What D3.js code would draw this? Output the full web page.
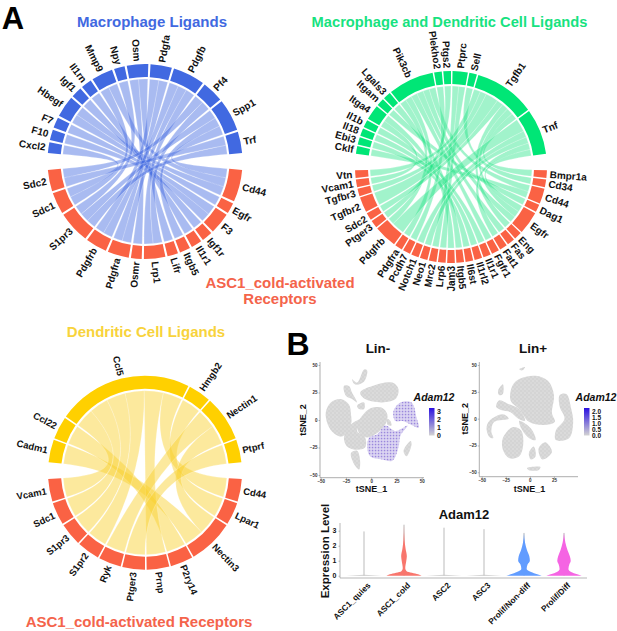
<!DOCTYPE html>
<html><head><meta charset="utf-8">
<style>
html,body{margin:0;padding:0;background:#fff}
text{font-family:"Liberation Sans",Arial,sans-serif;font-weight:bold}
</style>
<script src="https://d3js.org/d3.v7.min.js"></script>
</head><body><svg id="c" width="617" height="631" viewBox="0 0 617 631"></svg>
<script>
// ---------- Panel A data ----------
const macroLigands=["Cxcl2","F10","F7","Hbegf","Igf1","Il1rn","Mmp9","Npy","Osm","Pdgfa","Pdgfb","Pf4","Spp1","Trf"];
const macroReceptors=["Cd44","Egfr","F3","Igf1r","Il1r1","Itgb5","Lifr","Lrp1","Osmr","Pdgfra","Pdgfrb","S1pr3","Sdc1","Sdc2"];
const macroLinks=[["Cxcl2","Sdc1",1],["F10","F3",1],["F7","F3",1],["Hbegf","Egfr",1],["Hbegf","Cd44",1],["Igf1","Igf1r",1],["Il1rn","Il1r1",1],
["Mmp9","Cd44",1],["Mmp9","Sdc1",1],["Npy","S1pr3",1],["Osm","Osmr",1],["Osm","Lifr",1],["Pdgfa","Pdgfra",1],["Pdgfa","Pdgfrb",1],
["Pdgfb","Pdgfra",1],["Pdgfb","Pdgfrb",1],["Pdgfb","Lrp1",1],["Pf4","Lrp1",1],["Pf4","Sdc2",1],["Spp1","Cd44",1],["Spp1","Itgb5",1],["Spp1","S1pr3",1],
["Trf","S1pr3",1],["Trf","Sdc2",1]];

const bothLigands=["Cklf","Ebi3","Il18","Il1b","Itga4","Itgam","Lgals3","Pik3cb","Plekho2","Ptgs2","Ptprc","Sell","Tgfb1","Tnf"];
const bothReceptors=["Bmpr1a","Cd34","Cd44","Dag1","Egfr","Eng","Fas","Fat1","Fgfr1","Il1r1","Il1rl2","Il6st","Itgb5","Jam3","Lrp6","Mrc2","Neo1","Notch1","Pcdh7","Pdgfra","Pdgfrb","Ptger3","Sdc2","Tgfbr2","Tgfbr3","Vcam1","Vtn"];
const bothLinks=[["Cklf","Cd44",1],["Ebi3","Il6st",1],["Il18","Il1rl2",1],["Il1b","Il1r1",1],["Itga4","Vcam1",1],["Itga4","Jam3",1],["Itgam","Dag1",1],["Lgals3","Itgb5",1],
["Pik3cb","Egfr",1],["Pik3cb","Fgfr1",1],["Pik3cb","Pdgfra",1],["Pik3cb","Pdgfrb",1],["Pik3cb","Fas",1],["Pik3cb","Cd44",1],
["Plekho2","Pcdh7",1],["Ptgs2","Ptger3",1],["Ptprc","Mrc2",1],["Ptprc","Lrp6",1],["Sell","Cd34",1],
["Tgfb1","Tgfbr2",2],["Tgfb1","Tgfbr3",1],["Tgfb1","Eng",1],["Tgfb1","Bmpr1a",1],["Tgfb1","Egfr",1],["Tgfb1","Sdc2",1],["Tgfb1","Vtn",1],
["Tnf","Egfr",1],["Tnf","Fat1",1],["Tnf","Neo1",1],["Tnf","Notch1",1],["Tnf","Pdgfrb",2]];

const dcLigands=["Cadm1","Ccl22","Ccl5","Hmgb2","Nectin1","Ptprf"];
const dcReceptors=["Cd44","Lpar1","Nectin3","P2ry14","Prnp","Ptger3","Ryk","S1pr2","S1pr3","Sdc1","Vcam1"];
const dcLinks=[["Cadm1","Nectin3",1],["Ccl22","P2ry14",1],["Ccl5","Vcam1",1],["Ccl5","Sdc1",1],["Ccl5","S1pr3",1],["Ccl5","S1pr2",1],["Ccl5","Prnp",1],["Ccl5","Cd44",1],
["Hmgb2","Lpar1",1],["Nectin1","Ryk",1],["Nectin1","Nectin3",1],["Ptprf","Ptger3",1]];

// ---------- Panel B data (cluster outlines, in tSNE units) ----------
const linNegGray=[
[[-45,7],[-40,16],[-30,19],[-22,14],[-20,5],[-20,-4],[-29,-15],[-37,-12],[-43,-4]],
[[-27,-16],[-20,-4],[-9,1],[-14,-10],[-6,-16],[-6,-25],[-15,-27],[-24,-24]],
[[-11,25],[1,31],[21,34],[27,28],[24,19],[11,16],[-6,19]],
[[-27,31],[-22,31],[-19,25],[-14,16],[-19,19],[-25,22]],
[[-19,37],[-14,34],[-7,46],[-4,45],[-7,35],[-14,32],[-17,33]],
[[-14,-5],[-2,10],[11,11],[16,5],[14,-4],[4,-13],[-4,-16],[-11,-13]],
[[-20,-30],[-14,-28],[-11,-37],[-12,-45],[-17,-40]],
[[32,-28],[39,-19],[40,-22],[35,-33]],
[[-14,13],[-7,16],[-7,10],[-12,10]],
[[16,1],[19,-1],[20,-5],[16,-4]]];
const linNegPurple=[
[[-2,-16],[6,-13],[14,-5],[24,-10],[36,-5],[29,-14],[27,-25],[21,-37],[11,-36],[-1,-33],[-4,-25]],
[[22,8],[29,16],[40,16],[45,2],[47,-7],[39,-4],[31,-1],[24,-1]]];
const linPosGray=[
[[-18,31],[-11,37],[6,40],[19,35],[25,22],[23,5],[26,-3],[14,-6],[-1,-3],[-11,9],[-20,17]],
[[-35,11],[-32,17],[-23,14],[-11,9],[-5,-2],[-12,0],[-20,6],[-30,8]],
[[-33,26],[-28,32],[-28,23],[-32,22]],
[[31,22],[38,23],[43,9],[45,-3],[41,-18],[27,-20],[27,-11],[36,0],[31,11]],
[[-28,-18],[-18,-8],[-9,-11],[-7,-25],[-11,-35],[-21,-37],[-28,-29]],
[[-45,-9],[-42,-2],[-28,4],[-22,0],[-37,-3],[-40,-12],[-38,-18],[-42,-17]],
[[-11,-2],[1,-9],[6,-20],[-1,-18],[-9,-9]],
[[-1,-32],[4,-26],[6,-35],[1,-38]],
[[9,-28],[16,-22],[23,-31],[13,-38]],
[[-3,-46],[11,-45],[9,-48],[-1,-48]],
[[-11,46],[-5,48],[-8,45]]];
const tsneTicks=[-50,-25,0,25,50];
const linPosXTicks=[-50,-25,0,25];
const legendNegLabels=[3,2,1,0];
const legendPosLabels=["2.0","1.5","1.0","0.5","0.0"];

const clusters=["ASC1_quies","ASC1_cold","ASC2","ASC3","Prolif/Non-diff","Prolif/Diff"];
const clusterTop=[2.95,3.4,3.2,3.1,2.85,2.85];
const violinLevels=[0,0.1,0.25,0.45,0.75,1,1.3,1.7,2.2,2.85];
const violinColdLevels=[0,0.1,0.2,0.3,0.5,1,1.3,1.8,2.4,3.4];
const violinCold=[1,0.8,0.45,0.15,0.07,0.13,0.16,0.09,0.03,0];
const violinNonDiff=[1,0.75,0.4,0.15,0.2,0.33,0.3,0.17,0.06,0];
const violinDiff=[1,0.75,0.4,0.25,0.3,0.38,0.33,0.2,0.08,0];
const violinFlat=[1,0];
const violinFlatLevels=[0,0.07];
const exprTicks=[0,1,2,3];

// ---------- Helpers ----------
const svg=d3.select("#c");
const rad=d=>d*Math.PI/180;

function ribbonPath(s,t,r,k){
  const a0=rad(s[0])-Math.PI/2,a1=rad(s[1])-Math.PI/2,b0=rad(t[0])-Math.PI/2,b1=rad(t[1])-Math.PI/2;
  const pt=a=>[r*Math.cos(a),r*Math.sin(a)];
  const [x0,y0]=pt(a0),[x1,y1]=pt(a1),[u0,v0]=pt(b0),[u1,v1]=pt(b1);
  const p=d3.path();
  p.moveTo(x0,y0);p.arc(0,0,r,a0,a1);
  p.bezierCurveTo(k*x1,k*y1,k*u0,k*v0,u0,v0);
  p.arc(0,0,r,b0,b1);
  p.bezierCurveTo(k*u1,k*v1,k*x0,k*y0,x0,y0);
  p.closePath();
  return p.toString();
}

function chordPanel(cfg){
  const {cx,cy,R,ligands,receptors,links,gap,color,ribbonColor,ribbonOpacity,bend}=cfg;
  const g=svg.append("g").attr("transform",`translate(${cx},${cy})`);
  const bigGap=10;
  const weight=(n,k)=>d3.sum(links.filter(l=>l[k]===n),l=>l[2]);
  const total=d3.sum(links,l=>l[2]);
  const unit=(360-2*bigGap-gap*(ligands.length+receptors.length-2))/(2*total);
  const layout=(names,k,center)=>{
    const span=total*unit+gap*(names.length-1);
    let a=center-span/2;const m=new Map();
    names.forEach(n=>{const w=weight(n,k);m.set(n,{name:n,start:a,end:a+w*unit});a+=w*unit+gap;});
    return m;
  };
  const L=layout(ligands,0,0), Rc=layout(receptors,1,180);
  const rOuter=R,rInner=R-13,rRib=R-15;
  const arc=d3.arc().innerRadius(rInner).outerRadius(rOuter);
  const place=(sector,getOther,k)=>{
    const ls=links.filter(l=>l[k]===sector.name).sort((a,b)=>getOther(b)-getOther(a));
    let a=sector.start;const m=new Map();
    ls.forEach(l=>{m.set(l,[a,a+l[2]*unit]);a+=l[2]*unit;});
    return m;
  };
  const srcPos=new Map(),tgtPos=new Map();
  L.forEach(s=>place(s,l=>Rc.get(l[1]).start,0).forEach((v,l)=>srcPos.set(l,v)));
  Rc.forEach(s=>place(s,l=>L.get(l[0]).start,1).forEach((v,l)=>tgtPos.set(l,v)));
  g.selectAll("path.rib").data(links).join("path").attr("class","rib")
    .attr("d",l=>ribbonPath(srcPos.get(l),tgtPos.get(l),rRib,bend))
    .attr("fill",ribbonColor).attr("fill-opacity",ribbonOpacity).attr("stroke","#fff").attr("stroke-width",0.35).attr("stroke-opacity",0.6);
  const drawSectors=(m,col)=>{
    const arr=[...m.values()];
    g.selectAll(null).data(arr).join("path")
      .attr("d",s=>arc({startAngle:rad(s.start),endAngle:rad(s.end)})).attr("fill",col);
    g.selectAll(null).data(arr).join("text")
      .attr("transform",s=>{const mid=(s.start+s.end)/2,norm=(mid+360)%360;
        return norm<180?`rotate(${mid-90}) translate(${R+3},0)`:`rotate(${mid-90}) translate(${R+3},0) rotate(180)`;})
      .attr("text-anchor",s=>(((s.start+s.end)/2+360)%360)<180?"start":"end")
      .attr("dy","0.35em").attr("font-size",cfg.labelSize).attr("fill","#111")
      .text(s=>s.name);
  };
  drawSectors(L,color);drawSectors(Rc,"#FA6244");
}

function label(x,y,t,size,fill,extra={}){
  const e=svg.append("text").attr("x",x).attr("y",y).attr("text-anchor",extra.anchor||"middle")
    .attr("font-size",size).attr("fill",fill).text(t);
  if(extra.rotate!==undefined)e.attr("transform",`rotate(${extra.rotate} ${x} ${y})`);
  if(extra.italic)e.attr("font-style","italic");
  return e;
}

// ---------- Panel A ----------
label(13,28.5,"A",31,"#000");
label(152,27,"Macrophage Ligands",15,"#4169E1");
label(449.5,27,"Macrophage and Dendritic Cell Ligands",14.7,"#17E27F");
label(280,288,"ASC1_cold-activated",15,"#F4644B");
label(280,304,"Receptors",15,"#F4644B");
label(146,337,"Dendritic Cell Ligands",15,"#F8D33C");
label(139,627,"ASC1_cold-activated Receptors",15,"#F4644B");

chordPanel({cx:145,cy:161.5,R:97.5,ligands:macroLigands,receptors:macroReceptors,links:macroLinks,gap:1.3,color:"#4169E1",ribbonColor:"#4169E1",ribbonOpacity:0.45,bend:0.12,labelSize:10});
chordPanel({cx:451,cy:167,R:96,ligands:bothLigands,receptors:bothReceptors,links:bothLinks,gap:0.92,color:"#00E676",ribbonColor:"#1FE283",ribbonOpacity:0.42,bend:0.28,labelSize:10});
chordPanel({cx:145,cy:472.7,R:97,ligands:dcLigands,receptors:dcReceptors,links:dcLinks,gap:1,color:"#FFD000",ribbonColor:"#F9D12E",ribbonOpacity:0.47,bend:0.33,labelSize:9.5});

// ---------- Panel B ----------
label(298,355,"B",32,"#000");
const defs=svg.append("defs");
const blur=defs.append("filter").attr("id","soft");blur.append("feGaussianBlur").attr("stdDeviation",0.3);
const graySpeck=defs.append("pattern").attr("id","gspeck").attr("width",4).attr("height",4).attr("patternUnits","userSpaceOnUse");
graySpeck.append("rect").attr("width",4).attr("height",4).attr("fill","#D4D4D4");
graySpeck.append("rect").attr("x",0.5).attr("y",0.5).attr("width",1).attr("height",1).attr("fill","#F0F0F0");
graySpeck.append("rect").attr("x",2.5).attr("y",2.5).attr("width",1).attr("height",1).attr("fill","#E8E8E8");
const pat=defs.append("pattern").attr("id","speck").attr("width",3).attr("height",3).attr("patternUnits","userSpaceOnUse");
pat.append("rect").attr("width",3).attr("height",3).attr("fill","#CFC6EE");
pat.append("rect").attr("width",1.1).attr("height",1.1).attr("fill","#9B88DC");
pat.append("rect").attr("x",1.5).attr("y",1.5).attr("width",1.1).attr("height",1.1).attr("fill","#F4F1FB");
const grad=defs.append("linearGradient").attr("id","exprGrad").attr("x1",0).attr("x2",0).attr("y1",1).attr("y2",0);
grad.append("stop").attr("offset",0).attr("stop-color","#D3D3D3");
grad.append("stop").attr("offset",1).attr("stop-color","#2A10E0");

function tsne(cfg){
  const x=d3.scaleLinear().domain([-50,50]).range(cfg.xr);
  const y=d3.scaleLinear().domain([-50,50]).range(cfg.yr);
  const line=d3.line().x(d=>x(d[0])).y(d=>y(d[1])).curve(d3.curveCatmullRomClosed.alpha(0.5));
  const g=svg.append("g").attr("filter","url(#soft)");
  g.selectAll(null).data(cfg.gray).join("path").attr("d",line).attr("fill","url(#gspeck)");
  g.selectAll(null).data(cfg.purple||[]).join("path").attr("d",line).attr("fill","url(#speck)");
  const ax=svg.append("g").attr("transform",`translate(0,${cfg.axisY})`).call(d3.axisBottom(x).tickValues(cfg.xticks).tickSize(1.5).tickPadding(1));
  const ay=svg.append("g").attr("transform",`translate(${cfg.axisX},0)`).call(d3.axisLeft(y).tickValues(tsneTicks).tickSize(1.5).tickPadding(1));
  [ax,ay].forEach(a=>{a.selectAll("text").attr("font-size",4.5).attr("fill","#333");a.selectAll("line").attr("stroke","#555").attr("stroke-width",0.4);a.select(".domain").remove();});
  svg.append("line").attr("x1",cfg.axisX).attr("x2",cfg.axisEnd).attr("y1",cfg.axisY).attr("y2",cfg.axisY).attr("stroke","#777").attr("stroke-width",0.6);
  svg.append("line").attr("x1",cfg.axisX).attr("x2",cfg.axisX).attr("y1",362).attr("y2",cfg.axisY).attr("stroke","#777").attr("stroke-width",0.6);
  label(cfg.titleX,353,cfg.title,13.5,"#111");
  label(cfg.xLabX,491.5,"tSNE_1",9,"#111");
  label(cfg.yLabX,y(0),"tSNE_2",9,"#111",{rotate:-90});
  label(cfg.legX,401,"Adam12",10.5,"#111",{italic:true});
  svg.append("rect").attr("x",cfg.barX).attr("y",408).attr("width",5.5).attr("height",27.5).attr("fill","url(#exprGrad)");
  const ly=d3.scalePoint().domain(cfg.legend).range([411.5,435.7]);
  svg.selectAll(null).data(cfg.legend).join("text").attr("x",cfg.barX+8).attr("y",d=>ly(d)+2.5).attr("font-size",cfg.legSize).attr("fill","#111").text(d=>d);
}
tsne({xr:[320.7,421.7],yr:[475,365],axisX:320,axisY:477.7,axisEnd:424,xticks:tsneTicks,gray:linNegGray,purple:linNegPurple,title:"Lin-",titleX:378,xLabX:371.5,yLabX:306,legX:434,barX:429,legend:legendNegLabels,legSize:7});
tsne({xr:[481.7,578],yr:[472.3,365],axisX:479.3,axisY:476.7,axisEnd:578,xticks:linPosXTicks,gray:linPosGray,title:"Lin+",titleX:533,xLabX:529.5,yLabX:468,legX:596,barX:584,legend:legendPosLabels,legSize:6.5});

// violin plot
const vx=d3.scaleBand().domain(clusters).range([344,584]);
const vy=d3.scaleLinear().domain([0,3]).range([575.7,530.7]);
const halfW=vx.bandwidth()/2-2.3;
const vShapes=[[violinFlatLevels,violinFlat,"#C8C8C8"],[violinColdLevels,violinCold,"#F8766D"],[violinFlatLevels,violinFlat,"#C8C8C8"],[violinFlatLevels,violinFlat,"#C8C8C8"],[violinLevels,violinNonDiff,"#619CFF"],[violinLevels,violinDiff,"#F564E3"]];
clusters.forEach((c,i)=>{
  const cxv=vx(c)+vx.bandwidth()/2,[lv,wd,col]=vShapes[i];
  svg.append("line").attr("x1",cxv).attr("x2",cxv).attr("y1",vy(0)).attr("y2",vy(clusterTop[i])).attr("stroke","#AAA").attr("stroke-width",0.8);
  const area=d3.area().y(d=>vy(d[0])).x0(d=>cxv-d[1]*halfW).x1(d=>cxv+d[1]*halfW).curve(d3.curveMonotoneY);
  svg.append("path").attr("d",area(lv.map((l,k)=>[l,wd[k]]))).attr("fill",col);
  svg.append("text").attr("transform",`translate(${cxv+4},583) rotate(-45)`).attr("text-anchor","end").attr("dy","0.5em").attr("font-size",8.3).attr("fill","#111").text(c);
});
const vax=svg.append("g").attr("transform","translate(340,0)").call(d3.axisLeft(vy).tickValues(exprTicks).tickSize(1.5).tickPadding(2).tickFormat(d3.format("d")));
vax.select(".domain").remove();vax.selectAll("text").attr("font-size",7).attr("fill","#111");vax.selectAll("line").attr("stroke","#777").attr("stroke-width",0.5);
svg.append("line").attr("x1",340).attr("x2",340).attr("y1",523).attr("y2",578).attr("stroke","#999").attr("stroke-width",0.7);
svg.append("line").attr("x1",340).attr("x2",587).attr("y1",578).attr("y2",578).attr("stroke","#999").attr("stroke-width",0.7);
label(329,551,"Expression Level",11.5,"#111",{rotate:-90});
label(464,519,"Adam12",13,"#111");
</script></body></html>
